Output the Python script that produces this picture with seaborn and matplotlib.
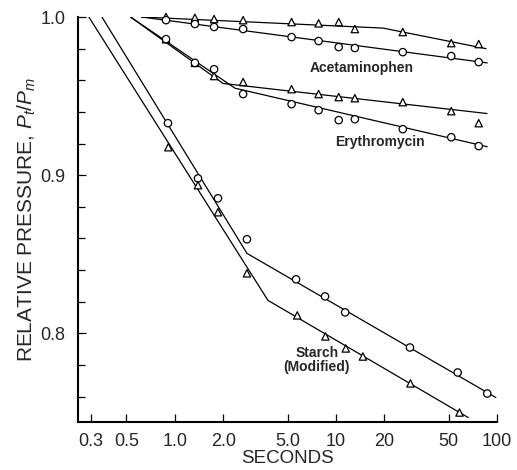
import numpy as np
import pandas as pd
import matplotlib
matplotlib.use("Agg")
import matplotlib.pyplot as plt
import seaborn as sns

# temps (s) et pressions relatives
acet_x = [0.88, 1.33, 1.75, 2.65, 5.3, 7.8, 10.4, 13.1, 26, 52, 77]
acet_tri = [1.0, 0.9995, 0.9987, 0.998, 0.9968, 0.996, 0.9968, 0.9924, 0.9905, 0.9835, 0.9829]
acet_circ = [0.998, 0.9956, 0.9937, 0.9924, 0.9873, 0.9848, 0.981, 0.9804, 0.9778, 0.9753, 0.9715]

eryth_x = [0.88, 1.33, 1.75, 2.65, 5.3, 7.8, 10.4, 13.1, 26, 52, 77]
eryth_tri = [0.986, 0.971, 0.9627, 0.9589, 0.9544, 0.9513, 0.9494, 0.9487, 0.9462, 0.9405, 0.9329]
eryth_circ = [0.986, 0.971, 0.967, 0.9513, 0.9449, 0.9411, 0.9348, 0.9354, 0.9291, 0.924, 0.9184]

starch_circ_x = [0.905, 1.39, 1.85, 2.8, 5.65, 8.55, 11.4, 28.8, 57, 87]
starch_circ = [0.9329, 0.898, 0.8854, 0.8595, 0.8342, 0.8234, 0.8133, 0.7911, 0.7753, 0.762]
starch_tri_x = [0.91, 1.39, 1.85, 2.8, 5.75, 8.6, 11.5, 14.7, 29, 58.5]
starch_tri = [0.9177, 0.8937, 0.8766, 0.838, 0.8114, 0.7981, 0.7905, 0.7854, 0.7684, 0.75]

# droites ajustées (sommets des segments)
fit_lines = {
    "acet_tri": ([0.62, 19.6, 85.5], [1.0, 0.993, 0.980]),
    "acet_circ": ([0.62, 87], [1.0, 0.971]),
    "eryth_tri": ([0.53, 1.99, 86.7], [1.0, 0.958, 0.939]),
    "eryth_circ": ([0.53, 2.36, 87], [1.0, 0.955, 0.918]),
    "starch_circ": ([0.352, 2.80, 98.3], [1.0, 0.8506, 0.7595]),
    "starch_tri": ([0.292, 3.78, 66.3], [1.0, 0.8209, 0.7468]),
}

xticks = [0.3, 0.5, 1, 2, 5, 10, 20, 50, 100]
xticklabels = ["0.3", "0.5", "1.0", "2.0", "5.0", "10", "20", "50", "100"]
yticks = [0.8, 0.9, 1.0]
yticklabels = ["0.8", "0.9", "1.0"]

sns.set_style("ticks")
plt.rcParams['font.family'] = ['Liberation Sans', 'DejaVu Sans']
plt.rcParams['mathtext.fontset'] = 'custom'
plt.rcParams['mathtext.rm'] = 'Liberation Sans'
plt.rcParams['mathtext.it'] = 'Liberation Sans:italic'

fig = plt.figure(figsize=(5.17, 4.70), dpi=100)
ax = fig.add_axes([0.1509, 0.1021, 0.8104, 0.8617])

for name, (lx, ly) in fit_lines.items():
    d = pd.DataFrame({"t": lx, "p": ly})
    sns.lineplot(data=d, x="t", y="p", ax=ax, color="black", lw=0.9,
                 estimator=None, sort=False)

pts = pd.concat([
    pd.DataFrame({"t": acet_x, "p": acet_tri, "m": "tri"}),
    pd.DataFrame({"t": acet_x, "p": acet_circ, "m": "circ"}),
    pd.DataFrame({"t": eryth_x, "p": eryth_tri, "m": "tri"}),
    pd.DataFrame({"t": eryth_x, "p": eryth_circ, "m": "circ"}),
    pd.DataFrame({"t": starch_circ_x, "p": starch_circ, "m": "circ"}),
    pd.DataFrame({"t": starch_tri_x, "p": starch_tri, "m": "tri"}),
])
sns.scatterplot(data=pts, x="t", y="p", style="m", markers={"tri": "^", "circ": "o"},
                ax=ax, s=28, facecolor="white", edgecolor="black", linewidth=0.9,
                legend=False, zorder=3, clip_on=False)

ax.set_xscale("log")
ax.set_xlim(0.25, 100)
ax.set_ylim(0.744, 1.0)
ax.set_xticks(xticks)
ax.set_xticklabels(xticklabels)
ax.xaxis.set_minor_locator(matplotlib.ticker.NullLocator())
ax.set_yticks(yticks)
ax.set_yticklabels(yticklabels)
ax.set_yticks(np.arange(0.76, 1.0, 0.02), minor=True)
ax.tick_params(axis="both", which="both", direction="in", labelsize=13, color="black", pad=9)
ax.tick_params(axis="x", which="major", pad=8)
ax.tick_params(axis="both", which="major", length=6, width=0.9)
ax.tick_params(axis="y", which="minor", length=5, width=0.9)
sns.despine(ax=ax)
for s in ["left", "bottom"]:
    ax.spines[s].set_linewidth(1.5)
    ax.spines[s].set_color("black")

ax.set_xlabel("SECONDS", fontsize=13.5, labelpad=0)
ax.set_ylabel("RELATIVE PRESSURE, $P_t/P_m$", fontsize=15, labelpad=2)

lab = dict(fontsize=10, fontweight="bold", ha="center", va="center")
ax.text(14.5, 0.968, "Acetaminophen", **lab)
ax.text(18.8, 0.921, "Erythromycin", **lab)
ax.text(7.6, 0.783, "Starch\n(Modified)", linespacing=1.0, **lab)

fig.savefig("out.png", dpi=100)
